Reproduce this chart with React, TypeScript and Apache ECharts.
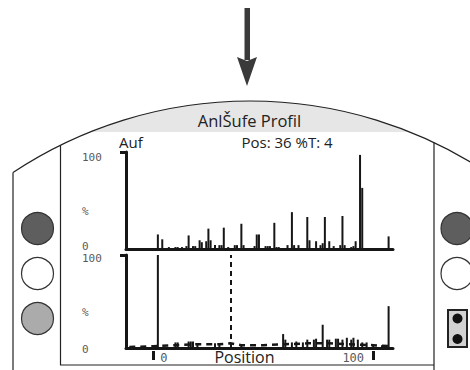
import React, { useEffect, useRef } from 'react';
import * as echarts from 'echarts';

// ---- data ----
const topPositions = [2, 4, 7, 10, 11, 13, 15, 16, 18, 19, 21, 22, 24, 25, 26, 28, 30, 31, 32, 34, 37, 38, 40, 41, 46, 47, 48, 50, 51, 52, 53, 55, 56, 57, 59, 61, 63, 64, 66, 70, 71, 74, 76, 77, 78, 80, 82, 85, 86, 87, 90, 91, 92, 94, 95, 107];
const topValues = [15, 10, 2, 2, 2, 2, 3, 14, 3, 3, 9, 7, 8, 21, 9, 4, 4, 4, 22, 2, 4, 4, 26, 4, 3, 15, 15, 1, 3, 3, 3, 27, 2, 2, 1, 4, 38, 4, 4, 33, 9, 8, 4, 6, 33, 8, 3, 4, 34, 4, 2, 3, 8, 97, 63, 13];

const bottomPositions = [2, 10, 11, 16, 17, 18, 20, 28, 30, 40, 59, 60, 63, 65, 68, 70, 73, 74, 77, 79, 80, 83, 84, 86, 88, 90, 91, 93, 95, 97, 100, 104, 107];
const bottomValues = [100, 6, 6, 7, 7, 7, 5, 5, 5, 3, 15, 9, 6, 7, 6, 9, 9, 10, 25, 9, 9, 10, 10, 9, 11, 9, 11, 9, 6, 6, 3, 3, 45];

const trendPositions = [-11, 0, 10, 20, 30, 35, 40, 50, 60, 70, 80, 90, 100, 108];
const trendValues = [1, 2, 3, 4, 4, 5, 3, 3, 4, 5, 5, 4, 3, 2];

const markerPosition = 35;
const xTickValues = [0, 100];
const xTickLabels = ['0', '100'];
const yTickLabels = ['0', '%', '100'];

const titleText = 'AnlŠufe Profil';
const modeText = 'Auf';
const statusText = 'Pos: 36 %T: 4';
const xAxisName = 'Position';

const SANS = '"Open Sans", "Noto Sans", sans-serif';
const MONO = '"DejaVu Sans Mono", monospace';
const INK = '#161616';

// device outline geometry
const CX = 250;
const CY = 529.6;
const R = 428.6;
const FRAME_BOTTOM = 365;
const arcY = (x: number) => CY - Math.sqrt(R * R - (x - CX) * (x - CX));

function buildGraphic() {
  const els: any[] = [];
  // arrow
  els.push({ type: 'rect', shape: { x: 244.5, y: 8, width: 5.5, height: 52 }, style: { fill: '#3a3a3a' } });
  els.push({ type: 'polygon', shape: { points: [[237, 57], [247, 61], [257, 57], [247, 86]] }, style: { fill: '#3a3a3a' } });
  // gray header band
  const band: number[][] = [];
  const dy = CY - 132;
  const half = Math.sqrt(R * R - dy * dy);
  for (let x = CX - half; x <= CX + half + 0.01; x += 4) band.push([x, Math.min(132, arcY(x))]);
  band.push([CX + half, 132]);
  els.push({ type: 'polygon', shape: { points: band }, style: { fill: '#e6e6e6' } });
  // outer arc
  const left = 13, right = 487;
  const aL = Math.atan2(arcY(left) - CY, left - CX);
  const aR = Math.atan2(arcY(right) - CY, right - CX);
  els.push({ type: 'arc', shape: { cx: CX, cy: CY, r: R, startAngle: aL, endAngle: aR, clockwise: true }, style: { stroke: '#222', lineWidth: 1.2, fill: 'none' } });
  els.push({ type: 'line', shape: { x1: left, y1: arcY(left), x2: left, y2: 372 }, style: { stroke: '#222', lineWidth: 1.2 } });
  // display frame
  els.push({ type: 'line', shape: { x1: 60.5, y1: arcY(60), x2: 60.5, y2: FRAME_BOTTOM }, style: { stroke: '#222', lineWidth: 1.2 } });
  els.push({ type: 'line', shape: { x1: 60, y1: FRAME_BOTTOM, x2: 434, y2: FRAME_BOTTOM }, style: { stroke: '#222', lineWidth: 1.2 } });
  els.push({ type: 'line', shape: { x1: 434, y1: arcY(434), x2: 434, y2: 372 }, style: { stroke: '#222', lineWidth: 1.2 } });
  // buttons
  const btn = (cx: number, cy: number, fill: string) => ({ type: 'circle', shape: { cx, cy, r: 16 }, style: { fill, stroke: '#333', lineWidth: 1.2 } });
  els.push(btn(37.5, 228.5, '#5e5e5e'));
  els.push(btn(37.5, 273.5, '#ffffff'));
  els.push(btn(37.5, 318.5, '#ababab'));
  els.push(btn(457, 228.5, '#5e5e5e'));
  els.push(btn(457, 273.5, '#ffffff'));
  // switch
  els.push({ type: 'rect', shape: { x: 448, y: 310, width: 19, height: 37 }, style: { fill: '#d2d2d2', stroke: '#222', lineWidth: 2 } });
  els.push({ type: 'circle', shape: { cx: 457.5, cy: 318.5, r: 5 }, style: { fill: '#111' } });
  els.push({ type: 'circle', shape: { cx: 457.5, cy: 339, r: 5 }, style: { fill: '#111' } });
  // texts
  els.push({ type: 'text', x: 249.5, y: 120, style: { text: titleText, font: `16.5px ${SANS}`, fill: '#222', textAlign: 'center', textVerticalAlign: 'middle' } });
  els.push({ type: 'text', x: 119, y: 142, style: { text: modeText, font: `15px ${SANS}`, fill: '#222', textAlign: 'left', textVerticalAlign: 'middle' } });
  els.push({ type: 'text', x: 241.5, y: 142, style: { text: statusText, font: `15px ${SANS}`, fill: '#222', textAlign: 'left', textVerticalAlign: 'middle' } });
  return els;
}

const X_MIN = -12.5;
const X_MAX = 109;

function yAxisFor(gridIndex: number, pads: number[][]) {
  const base = { fontFamily: MONO, fontSize: 11, color: '#5a5a5a', lineHeight: 10 };
  return {
    type: 'value',
    gridIndex,
    position: 'left',
    min: 0,
    max: 100,
    interval: 50,
    axisLine: { show: true, onZero: false, lineStyle: { color: INK, width: 3 } },
    axisTick: { show: true, customValues: [100], length: 6, lineStyle: { color: INK, width: 3 } },
    splitLine: { show: false },
    axisLabel: {
      show: true,
      align: 'left',
      margin: 44,
      showMinLabel: true,
      showMaxLabel: true,
      color: '#5a5a5a',
      formatter: (v: number) => (v === 0 ? `{a|${yTickLabels[0]}}` : v === 50 ? `{b|${yTickLabels[1]}}` : v === 100 ? `{c|${yTickLabels[2]}}` : ''),
      rich: {
        a: { ...base, padding: pads[0] },
        b: { ...base, padding: pads[1] },
        c: { ...base, padding: pads[2] },
      },
    },
  };
}

function plainX(gridIndex: number) {
  return {
    type: 'value',
    gridIndex,
    position: 'bottom',
    min: X_MIN,
    max: X_MAX,
    axisLine: { show: true, onZero: false, lineStyle: { color: INK, width: 3 } },
    axisTick: { show: false },
    axisLabel: { show: false },
    splitLine: { show: false },
  };
}

export default function App() {
  const ref = useRef<HTMLDivElement>(null);
  useEffect(() => {
    if (!ref.current) return;
    const chart = echarts.init(ref.current, null, { renderer: 'svg' });
    const monoLabel = { fontFamily: MONO, fontSize: 12, color: '#5a5a5a' };
    const option: any = {
      animation: false,
      backgroundColor: '#ffffff',
      graphic: { elements: buildGraphic() },
      grid: [
        { left: 126, top: 152, width: 267, height: 97, containLabel: false, outerBoundsMode: 'none' },
        { left: 126, top: 255, width: 267, height: 93, containLabel: false, outerBoundsMode: 'none' },
      ],
      xAxis: [
        plainX(0),
        plainX(1),
        {
          type: 'value',
          gridIndex: 1,
          position: 'bottom',
          min: X_MIN,
          max: X_MAX,
          offset: 3,
          axisLine: { show: false, onZero: false },
          axisTick: { show: true, customValues: xTickValues, length: 9, lineStyle: { color: INK, width: 3 } },
          splitLine: { show: false },
          axisLabel: {
            show: true,
            customValues: xTickValues,
            margin: 1,
            verticalAlign: 'top',
            color: '#5a5a5a',
            formatter: (v: number) => (v === xTickValues[0] ? `{l|${xTickLabels[0]}}` : v === xTickValues[1] ? `{r|${xTickLabels[1]}}` : ''),
            rich: {
              l: { ...monoLabel, padding: [0, 0, 0, 21] },
              r: { ...monoLabel, padding: [0, 40, 0, 0] },
            },
          },
          name: xAxisName,
          nameLocation: 'middle',
          nameGap: -2,
          nameMoveOverlap: false,
          nameTextStyle: { fontFamily: SANS, fontSize: 16, color: '#222', verticalAlign: 'top', lineHeight: 16, padding: [0, 30, 0, 0] },
        },
      ],
      yAxis: [
        yAxisFor(0, [[0, 0, 6, 0], [22, 0, 0, 0], [10, 0, 0, 0]]),
        yAxisFor(1, [[3, 0, 0, 0], [22, 0, 0, 0], [7, 0, 0, 0]]),
      ],
      series: [
        {
          type: 'bar',
          xAxisIndex: 0,
          yAxisIndex: 0,
          barWidth: 2,
          itemStyle: { color: INK },
          data: topPositions.map((p, i) => [p, topValues[i]]),
        },
        {
          type: 'bar',
          xAxisIndex: 1,
          yAxisIndex: 1,
          barWidth: 2,
          itemStyle: { color: INK },
          data: bottomPositions.map((p, i) => [p, bottomValues[i]]),
        },
        {
          type: 'line',
          xAxisIndex: 1,
          yAxisIndex: 1,
          symbol: 'none',
          lineStyle: { color: INK, width: 2.5, type: [6, 5] },
          data: trendPositions.map((p, i) => [p, trendValues[i]]),
          markLine: {
            silent: true,
            symbol: ['none', 'none'],
            label: { show: false },
            lineStyle: { color: INK, width: 2, type: [5, 4] },
            data: [{ xAxis: markerPosition }],
          },
        },
      ],
    };
    chart.setOption(option);
    return () => chart.dispose();
  }, []);
  return <div ref={ref} style={{ position: 'absolute', left: 0, top: 0, width: 470, height: 370 }} />;
}
